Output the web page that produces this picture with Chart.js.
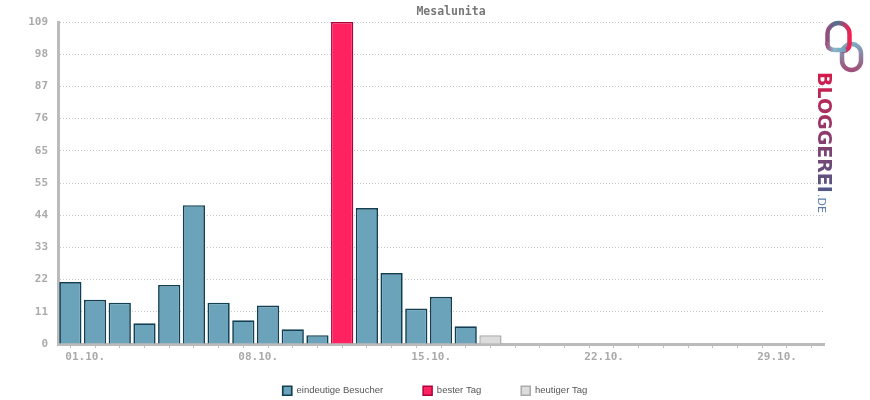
<!DOCTYPE html>
<html>
<head>
<meta charset="utf-8">
<script src="https://cdn.jsdelivr.net/npm/chart.js@4/dist/chart.umd.min.js"></script>
<style>
  body { margin: 0; background: #fff; }
  #wrap { width: 870px; height: 400px; }
</style>
</head>
<body>
<div id="wrap"><canvas id="statsChart" width="870" height="400"></canvas></div>
<script>
const chartTitle = 'Mesalunita';
const days = ['01.10.', '02.10.', '03.10.', '04.10.', '05.10.', '06.10.', '07.10.', '08.10.',
    '09.10.', '10.10.', '11.10.', '12.10.', '13.10.', '14.10.', '15.10.', '16.10.', '17.10.',
    '18.10.', '19.10.', '20.10.', '21.10.', '22.10.', '23.10.', '24.10.', '25.10.', '26.10.',
    '27.10.', '28.10.', '29.10.', '30.10.', '31.10.'];
const shownDays = ['01.10.', '08.10.', '15.10.', '22.10.', '29.10.'];

// eindeutige Besucher (best day + today are separate series)
const visitors = [21, 15, 14, 7, 20, 47, 14, 8, 13, 5, 3, null, 46, 24, 12, 16, 6, null,
    null, null, null, null, null, null, null, null, null, null, null, null, null];
const bestDay = [null, null, null, null, null, null, null, null, null, null, null, 109, null,
    null, null, null, null, null, null, null, null, null, null, null, null, null, null, null, null, null, null];
const today = [null, null, null, null, null, null, null, null, null, null, null, null, null,
    null, null, null, null, 3, null, null, null, null, null, null, null, null, null, null, null, null, null];

const yTickValues = [0, 10.9, 21.8, 32.7, 43.6, 54.5, 65.4, 76.3, 87.2, 98.1, 109];
const yTickLabels = ['0', '11', '22', '33', '44', '55', '65', '76', '87', '98', '109'];

const monoFont = { family: 'DejaVu Sans Mono', size: 11, weight: 'bold' };

// pull the legend row up so it sits just above the bottom edge
const legendPlacePlugin = {
    id: 'legendPlace',
    afterLayout(chart) {
        const legend = chart.legend;
        if (!legend) return;
        legend.top = 346;
    }
};

// title + bloggerei logo drawn on top
const extrasPlugin = {
    id: 'extras',
    afterDraw(chart) {
        const ctx = chart.ctx;
        ctx.save();
        ctx.font = 'bold 11.5px "DejaVu Sans Mono"';
        ctx.fillStyle = '#777';
        ctx.textAlign = 'center';
        ctx.textBaseline = 'middle';
        ctx.fillText(chartTitle, 451, 12);

        // logo: pill ring first, arch on top of it
        ctx.lineWidth = 4.5;
        ctx.lineCap = 'round';
        const g2 = ctx.createLinearGradient(0, 44, 0, 70);
        g2.addColorStop(0, '#7fa9c0');
        g2.addColorStop(1, '#a0507a');
        ctx.strokeStyle = g2;
        ctx.beginPath();
        ctx.roundRect(842, 44, 19, 26, 9.5);
        ctx.stroke();

        const g1 = ctx.createLinearGradient(826, 0, 851, 0);
        g1.addColorStop(0, '#9a4a78');
        g1.addColorStop(0.45, '#4d7393');
        g1.addColorStop(1, '#ff1a4c');
        ctx.strokeStyle = g1;
        ctx.beginPath();
        ctx.moveTo(827.5, 44);
        ctx.lineTo(827.5, 34);
        ctx.arc(838.5, 34, 11, Math.PI, Math.PI * 2);
        ctx.lineTo(849.5, 44);
        ctx.quadraticCurveTo(849.5, 50, 843, 51);
        ctx.stroke();
        const g3 = ctx.createLinearGradient(826, 0, 846, 0);
        g3.addColorStop(0, '#a04a78');
        g3.addColorStop(0.4, '#8ab8cc');
        g3.addColorStop(1, '#6c9fba');
        ctx.strokeStyle = g3;
        ctx.beginPath();
        ctx.moveTo(827.5, 44);
        ctx.quadraticCurveTo(828, 50, 835, 50);
        ctx.lineTo(844, 50);
        ctx.stroke();

        // vertical text
        ctx.translate(823, 72);
        ctx.rotate(Math.PI / 2);
        const g4 = ctx.createLinearGradient(0, 0, 123, 0);
        g4.addColorStop(0, '#d8194a');
        g4.addColorStop(0.5, '#8e3a6a');
        g4.addColorStop(1, '#4f5a88');
        ctx.fillStyle = g4;
        ctx.textAlign = 'left';
        ctx.textBaseline = 'middle';
        ctx.font = 'bold 19px "DejaVu Sans"';
        ctx.fillText('BLOGGEREI', 0, 0);
        ctx.fillStyle = '#5b7ea8';
        ctx.font = '11px "DejaVu Sans"';
        ctx.fillText('.DE', 122, 2);
        ctx.restore();
    }
};

new Chart(document.getElementById('statsChart'), {
    type: 'bar',
    data: {
        labels: days,
        datasets: [
            {
                label: 'eindeutige Besucher',
                data: visitors,
                backgroundColor: '#6ba3bb',
                borderColor: '#123f54',
                borderWidth: 1.7
            },
            {
                label: 'bester Tag',
                data: bestDay,
                backgroundColor: '#ff2260',
                borderColor: '#b0003a',
                borderWidth: 1.5
            },
            {
                label: 'heutiger Tag',
                data: today,
                backgroundColor: '#dcdcdc',
                borderColor: '#aaaaaa',
                borderWidth: 1.5
            }
        ]
    },
    options: {
        responsive: false,
        animation: false,
        devicePixelRatio: 1,
        datasets: { bar: { barPercentage: 0.9, categoryPercentage: 1 } },
        layout: { padding: { top: 22, right: 0, left: 0, bottom: 0 } },
        plugins: {
            title: { display: false },
            tooltip: { enabled: false },
            legend: {
                position: 'bottom',
                maxHeight: 36,
                labels: {
                    boxWidth: 9,
                    boxHeight: 9,
                    padding: 40,
                    color: '#555',
                    font: { family: 'Liberation Sans', size: 9.5 }
                }
            }
        },
        scales: {
            x: {
                stacked: true,
                offset: true,
                afterFit: (scale) => { scale.height = 20; },
                grid: {
                    display: true,
                    drawOnChartArea: false,
                    drawTicks: true,
                    tickLength: 4,
                    offset: false,
                    color: '#bbb',
                    lineWidth: 1
                },
                border: { color: '#bbb', width: 3 },
                ticks: {
                    autoSkip: false,
                    maxRotation: 0,
                    align: 'start',
                    labelOffset: -5,
                    padding: 3,
                    color: '#aaa',
                    font: monoFont,
                    callback: (v, i) => shownDays.includes(days[i]) ? days[i] : ''
                }
            },
            y: {
                stacked: true,
                min: 0,
                max: 109,
                afterBuildTicks: (scale) => {
                    scale.ticks = yTickValues.map(v => ({ value: v }));
                },
                afterFit: (scale) => { scale.width = 58; },
                grid: { color: '#c8c8c8', drawTicks: false },
                border: { color: '#bbb', width: 3, dash: [1, 2] },
                ticks: {
                    padding: 10,
                    color: '#aaa',
                    font: monoFont,
                    callback: (v, i) => yTickLabels[i]
                }
            },
            // empty right-hand axis that only reserves room for the logo
            yRight: {
                type: 'linear',
                position: 'right',
                display: true,
                afterFit: (scale) => { scale.width = 46; },
                grid: { display: false },
                border: { display: false },
                ticks: { display: false }
            }
        }
    },
    plugins: [legendPlacePlugin, extrasPlugin]
});
</script>
</body>
</html>
